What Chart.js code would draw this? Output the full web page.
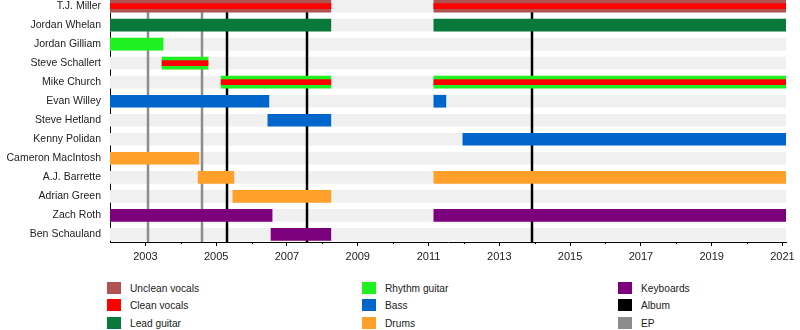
<!DOCTYPE html>
<html>
<head>
<meta charset="utf-8">
<script src="https://cdn.jsdelivr.net/npm/chart.js@4.4.1/dist/chart.umd.min.js"></script>
<style>
  body { margin: 0; background: #fff; font-family: "Liberation Sans", Arial, sans-serif; }
  #wrap { position: relative; width: 800px; height: 330px; }
  #chart-box { position: absolute; left: 0; top: 0; width: 800px; height: 270px; }
  .item { position: absolute; font-size: 10.2px; color: #222; line-height: 12px; white-space: nowrap; }
  .item i { position: absolute; left: 0; top: 0; width: 14px; height: 12px; }
  .item b { position: absolute; left: 23px; top: 1px; font-weight: normal; }
</style>
</head>
<body>
<div id="wrap">
  <div id="chart-box"><canvas id="timeline"></canvas></div>
  <div id="legend"></div>
</div>
<script>
// Band members, top to bottom
const members = [
  'T.J. Miller', 'Jordan Whelan', 'Jordan Gilliam', 'Steve Schallert', 'Mike Church',
  'Evan Willey', 'Steve Hetland', 'Kenny Polidan', 'Cameron MacIntosh', 'A.J. Barrette',
  'Adrian Green', 'Zach Roth', 'Ben Schauland'
];

// Periods per role: [member, from, to] in decimal years
const uncleanVocals = [
  ['T.J. Miller', 2002, 2008.24], ['T.J. Miller', 2011.15, 2021.1]
];
const cleanVocals = [
  ['T.J. Miller', 2002, 2008.24], ['T.J. Miller', 2011.15, 2021.1],
  ['Steve Schallert', 2003.47, 2004.77],
  ['Mike Church', 2005.14, 2008.24], ['Mike Church', 2011.15, 2021.1]
];
const leadGuitar = [
  ['Jordan Whelan', 2002, 2008.24], ['Jordan Whelan', 2011.15, 2021.1]
];
const rhythmGuitar = [
  ['Jordan Gilliam', 2002, 2003.5],
  ['Steve Schallert', 2003.47, 2004.77],
  ['Mike Church', 2005.14, 2008.24], ['Mike Church', 2011.15, 2021.1]
];
const bass = [
  ['Evan Willey', 2002, 2006.49], ['Evan Willey', 2011.15, 2011.49],
  ['Steve Hetland', 2006.46, 2008.24],
  ['Kenny Polidan', 2011.97, 2021.1]
];
const drums = [
  ['Cameron MacIntosh', 2002, 2004.51],
  ['A.J. Barrette', 2004.49, 2005.5], ['A.J. Barrette', 2011.15, 2021.1],
  ['Adrian Green', 2005.47, 2008.24]
];
const keyboards = [
  ['Zach Roth', 2002, 2006.58], ['Zach Roth', 2011.15, 2021.1],
  ['Ben Schauland', 2006.55, 2008.24]
];

// Releases
const albumYears = [2005.3, 2007.56, 2013.92];
const epYears = [2003.07, 2004.6];

// Axis range and labelled years
const startYear = 2002;
const endYear = 2021.1;
const labelYears = [2003, 2005, 2007, 2009, 2011, 2013, 2015, 2017, 2019, 2021];

const colors = {
  stripe: '#f0f0f0',
  unclean: '#b05252',
  clean: '#ff0000',
  lead: '#08793a',
  rhythm: '#1ff01f',
  bass: '#0066cc',
  drums: '#ffa02a',
  keys: '#7c007c',
  album: '#000000',
  ep: '#8c8c8c'
};

const toBars = rows => rows.map(([m, a, b]) => ({ x: [a, b], y: members.indexOf(m) }));

function roleSet(label, rows, color, thickness, order) {
  return {
    label, data: toBars(rows), backgroundColor: color,
    barThickness: thickness, grouped: false, borderWidth: 0, order
  };
}

const datasets = [
  // grey row background, drawn first
  {
    label: 'rows',
    data: members.map((m, i) => ({ x: [startYear, endYear], y: i })),
    backgroundColor: colors.stripe, barThickness: 12, grouped: false, borderWidth: 0, order: 10
  },
  roleSet('Unclean vocals', uncleanVocals, colors.unclean, 12, 5),
  roleSet('Lead guitar', leadGuitar, colors.lead, 12, 5),
  roleSet('Rhythm guitar', rhythmGuitar, colors.rhythm, 12, 5),
  roleSet('Bass', bass, colors.bass, 12, 5),
  roleSet('Drums', drums, colors.drums, 12, 5),
  roleSet('Keyboards', keyboards, colors.keys, 12, 5),
  roleSet('Clean vocals', cleanVocals, colors.clean, 5, 1)
];

// release lines sit between the row background and the member bars,
// short ticks for the unlabelled years go under the axis
const releaseLines = {
  id: 'releaseLines',
  afterDatasetDraw(chart, args) {
    if (args.index !== 0) return;
    const { ctx, chartArea, scales: { x } } = chart;
    ctx.save();
    ctx.lineWidth = 2.5;
    [[epYears, colors.ep], [albumYears, colors.album]].forEach(([years, c]) => {
      ctx.strokeStyle = c;
      years.forEach(yr => {
        const px = Math.round(x.getPixelForValue(yr));
        ctx.beginPath();
        ctx.moveTo(px, chartArea.top);
        ctx.lineTo(px, chartArea.bottom);
        ctx.stroke();
      });
    });
    ctx.restore();
  },
  afterDraw(chart) {
    const { ctx, chartArea, scales: { x } } = chart;
    ctx.save();
    ctx.strokeStyle = '#000';
    ctx.lineWidth = 1;
    for (let yr = 2004; yr < endYear; yr += 2) {
      const px = Math.round(x.getPixelForValue(yr)) + 0.5;
      ctx.beginPath();
      ctx.moveTo(px, chartArea.bottom);
      ctx.lineTo(px, chartArea.bottom + 2);
      ctx.stroke();
    }
    ctx.restore();
  }
};

const family = '"Liberation Sans", Arial, sans-serif';

new Chart(document.getElementById('timeline'), {
  type: 'bar',
  data: { datasets },
  plugins: [releaseLines],
  options: {
    indexAxis: 'y',
    responsive: true,
    maintainAspectRatio: false,
    animation: false,
    layout: { padding: { left: 0, right: 14, top: 0, bottom: 0 } },
    plugins: { legend: { display: false }, tooltip: { enabled: false } },
    scales: {
      x: {
        type: 'linear',
        min: startYear,
        max: endYear,
        offset: false,
        z: 1,
        afterBuildTicks: s => { s.ticks = labelYears.map(v => ({ value: v })); },
        afterFit: s => { s.height = 28; s.paddingLeft = 0; s.paddingRight = 0; },
        ticks: { font: { family, size: 11 }, color: '#222', padding: 4, autoSkip: false, maxRotation: 0, callback: v => String(v) },
        grid: { display: true, offset: false, drawOnChartArea: false, drawTicks: true, tickLength: 4, color: '#000' },
        border: { display: true, color: '#000', width: 1 }
      },
      y: {
        type: 'linear',
        reverse: true,
        min: -0.32,
        max: 12.4,
        offset: false,
        z: 1,
        afterBuildTicks: s => { s.ticks = members.map((m, i) => ({ value: i })); },
        afterFit: s => { s.width = 110; s.paddingTop = 0; s.paddingBottom = 0; },
        ticks: { font: { family, size: 10.5 }, color: '#222', padding: 9, autoSkip: false, callback: v => members[v] },
        grid: { display: false, offset: false, drawTicks: false },
        border: { display: true, color: '#000', width: 1 }
      }
    }
  }
});

// legend: three columns, filled top to bottom
const legendItems = [
  ['Unclean vocals', colors.unclean], ['Clean vocals', colors.clean], ['Lead guitar', colors.lead],
  ['Rhythm guitar', colors.rhythm], ['Bass', colors.bass], ['Drums', colors.drums],
  ['Keyboards', colors.keys], ['Album', colors.album], ['EP', colors.ep]
];
const colX = [107, 362, 618];
const rowY = [282, 299, 317];
const legend = document.getElementById('legend');
legendItems.forEach(([name, c], i) => {
  const el = document.createElement('div');
  el.className = 'item';
  el.style.left = colX[Math.floor(i / 3)] + 'px';
  el.style.top = rowY[i % 3] + 'px';
  el.innerHTML = '<i style="background:' + c + '"></i><b>' + name + '</b>';
  legend.appendChild(el);
});
</script>
</body>
</html>
